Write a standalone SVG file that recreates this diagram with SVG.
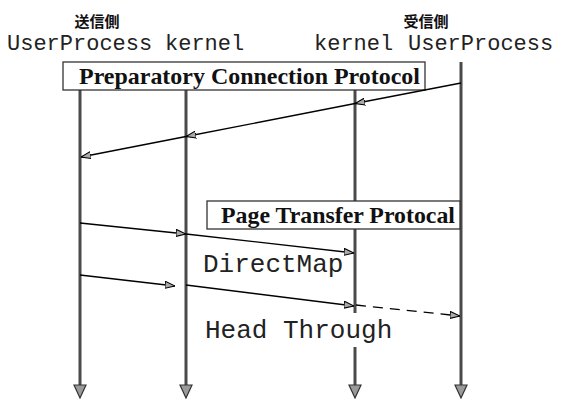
<svg xmlns="http://www.w3.org/2000/svg" width="561" height="399" viewBox="0 0 561 399">
  <style>
    .life { stroke: #4a4a4a; stroke-width: 3; fill: none; }
    .head { fill: #9a9a9a; stroke: #333; stroke-width: 1.2; }
    .msg { stroke: #000; stroke-width: 1.3; fill: none; }
    .mono { font-family: "Liberation Mono", "Courier New", monospace; fill: #222; }
    .cjk { font-family: "Noto Sans CJK JP", "Noto Sans CJK SC", sans-serif; font-weight: bold; font-size: 15px; fill: #111; }
    .box { fill: #fff; stroke: #333; stroke-width: 1.3; }
    .boxtxt { font-family: "Liberation Serif", "Times New Roman", serif; font-weight: bold; font-size: 23px; fill: #111; }
  </style>
  <defs>
    <marker id="arr" viewBox="0 0 10 8" refX="10" refY="4" markerWidth="10" markerHeight="8" markerUnits="userSpaceOnUse" orient="auto">
      <path d="M0,0.5 L10,4 L0,7.5 Z" fill="#aaa" stroke="#000" stroke-width="1.1"/>
    </marker>
  </defs>
  <rect width="561" height="399" fill="#fff"/>

  <text class="cjk" x="97" y="27" text-anchor="middle">送信側</text>
  <text class="cjk" x="426" y="27" text-anchor="middle">受信側</text>

  <g id="sender-user">
    <text class="mono" x="7" y="50" font-size="22">UserProcess</text>
    <line class="life" x1="80" y1="90" x2="80" y2="387"/>
    <polygon class="head" points="74,385 86,385 80,398"/>
  </g>
  <g id="sender-kernel">
    <text class="mono" x="165" y="50" font-size="22">kernel</text>
    <line class="life" x1="186" y1="90" x2="186" y2="387"/>
    <polygon class="head" points="180,385 192,385 186,398"/>
  </g>
  <g id="receiver-kernel">
    <text class="mono" x="314" y="50" font-size="22">kernel</text>
    <line class="life" x1="355" y1="90" x2="355" y2="313"/>
    <line class="life" x1="355" y1="347" x2="355" y2="387"/>
    <polygon class="head" points="349,385 361,385 355,398"/>
  </g>
  <g id="receiver-user">
    <text class="mono" x="408" y="50" font-size="22">UserProcess</text>
    <line class="life" x1="461" y1="62" x2="461" y2="387"/>
    <polygon class="head" points="455,385 467,385 461,398"/>
  </g>

  <g id="preparatory-box">
    <rect class="box" x="63" y="62" width="362" height="28"/>
    <text class="boxtxt" x="79" y="84" textLength="341" lengthAdjust="spacingAndGlyphs">Preparatory Connection Protocol</text>
  </g>
  <g id="page-transfer-box">
    <rect class="box" x="207" y="201" width="253" height="28"/>
    <text class="boxtxt" x="221" y="223" textLength="234" lengthAdjust="spacingAndGlyphs">Page Transfer Protocal</text>
  </g>

  <g id="connectors">
    <path class="msg" d="M461,83 L355,103.5 L186,136.5 L81,157" marker-mid="url(#arr)" marker-end="url(#arr)"/>
    <path class="msg" d="M80,223 L186,234 L354,253" marker-mid="url(#arr)" marker-end="url(#arr)"/>
    <path class="msg" d="M80,275 L175,286" marker-end="url(#arr)"/>
    <path class="msg" d="M186,285 L354,306" marker-end="url(#arr)"/>
    <path class="msg" d="M356,305 L460,316" stroke-dasharray="10 7" marker-end="url(#arr)"/>
  </g>

  <g id="labels">
    <text class="mono" x="203" y="272" font-size="26">DirectMap</text>
    <text class="mono" x="205" y="338" font-size="26">Head Through</text>
  </g>
</svg>
